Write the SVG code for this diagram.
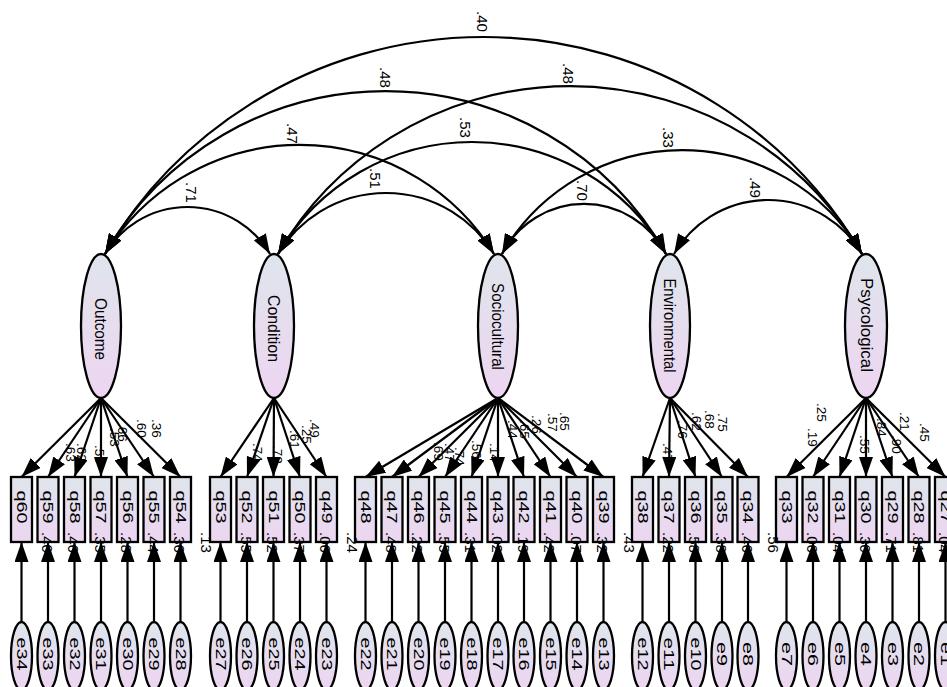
<svg xmlns="http://www.w3.org/2000/svg" width="947" height="687" viewBox="0 0 947 687">
<defs>
<linearGradient id="gr" x1="0" y1="0" x2="0" y2="1"><stop offset="0" stop-color="#dfe5ec"/><stop offset="1" stop-color="#edd5f1"/></linearGradient>
<marker id="ah" viewBox="0 0 20 14" refX="20" refY="7" markerWidth="20" markerHeight="14" markerUnits="userSpaceOnUse" orient="auto-start-reverse"><path d="M0,0 L20,7 L0,14 z" fill="#000"/></marker>
<style>
.nd{fill:url(#gr);stroke:#000;stroke-width:2.3}
.t{font-family:"Liberation Sans",Arial,sans-serif;fill:#000}
.lt{font-size:16px;text-anchor:middle}
.bt{font-size:15px;text-anchor:middle}
.c{fill:none;stroke:#000;stroke-width:2.2}
.cv{marker-start:url(#ah);marker-end:url(#ah)}
.ar{marker-end:url(#ah)}
.lb{font-size:15px}
.ld{font-size:13.5px}
</style>
</defs>
<rect width="947" height="687" fill="#fff"/>
<g id="latents">
<g id="Outcome"><ellipse class="nd" cx="101" cy="326" rx="20" ry="72"/><text class="t lt" transform="translate(95,329) rotate(90)" textLength="62" lengthAdjust="spacingAndGlyphs">Outcome</text></g>
<g id="Condition"><ellipse class="nd" cx="274" cy="326" rx="20" ry="72"/><text class="t lt" transform="translate(268,328.5) rotate(90)" textLength="67" lengthAdjust="spacingAndGlyphs">Condition</text></g>
<g id="Sociocultural"><ellipse class="nd" cx="498" cy="326" rx="20" ry="72"/><text class="t lt" transform="translate(492,326.5) rotate(90)" textLength="87" lengthAdjust="spacingAndGlyphs">Sociocultural</text></g>
<g id="Environmental"><ellipse class="nd" cx="670" cy="326" rx="20" ry="72"/><text class="t lt" transform="translate(664,325.5) rotate(90)" textLength="94" lengthAdjust="spacingAndGlyphs">Environmental</text></g>
<g id="Psycological"><ellipse class="nd" cx="866" cy="326" rx="21" ry="72"/><text class="t lt" transform="translate(861,325) rotate(90)" textLength="94" lengthAdjust="spacingAndGlyphs">Psycological</text></g>
</g>
<g id="indicators">
<g id="q60"><rect class="nd" x="11" y="477" width="21" height="65"/><text class="t bt" transform="translate(16.5,507) rotate(90)" textLength="33" lengthAdjust="spacingAndGlyphs">q60</text></g>
<g id="q59"><rect class="nd" x="37.5" y="477" width="21" height="65"/><text class="t bt" transform="translate(43,507) rotate(90)" textLength="33" lengthAdjust="spacingAndGlyphs">q59</text></g>
<g id="q58"><rect class="nd" x="64" y="477" width="21" height="65"/><text class="t bt" transform="translate(69.5,507) rotate(90)" textLength="33" lengthAdjust="spacingAndGlyphs">q58</text></g>
<g id="q57"><rect class="nd" x="90.5" y="477" width="21" height="65"/><text class="t bt" transform="translate(96,507) rotate(90)" textLength="33" lengthAdjust="spacingAndGlyphs">q57</text></g>
<g id="q56"><rect class="nd" x="117" y="477" width="21" height="65"/><text class="t bt" transform="translate(122.5,507) rotate(90)" textLength="33" lengthAdjust="spacingAndGlyphs">q56</text></g>
<g id="q55"><rect class="nd" x="143.5" y="477" width="21" height="65"/><text class="t bt" transform="translate(149,507) rotate(90)" textLength="33" lengthAdjust="spacingAndGlyphs">q55</text></g>
<g id="q54"><rect class="nd" x="170" y="477" width="21" height="65"/><text class="t bt" transform="translate(175.5,507) rotate(90)" textLength="33" lengthAdjust="spacingAndGlyphs">q54</text></g>
<g id="q53"><rect class="nd" x="210" y="477" width="21" height="65"/><text class="t bt" transform="translate(215.5,507) rotate(90)" textLength="33" lengthAdjust="spacingAndGlyphs">q53</text></g>
<g id="q52"><rect class="nd" x="236.5" y="477" width="21" height="65"/><text class="t bt" transform="translate(242,507) rotate(90)" textLength="33" lengthAdjust="spacingAndGlyphs">q52</text></g>
<g id="q51"><rect class="nd" x="263" y="477" width="21" height="65"/><text class="t bt" transform="translate(268.5,507) rotate(90)" textLength="33" lengthAdjust="spacingAndGlyphs">q51</text></g>
<g id="q50"><rect class="nd" x="289.5" y="477" width="21" height="65"/><text class="t bt" transform="translate(295,507) rotate(90)" textLength="33" lengthAdjust="spacingAndGlyphs">q50</text></g>
<g id="q49"><rect class="nd" x="316" y="477" width="21" height="65"/><text class="t bt" transform="translate(321.5,507) rotate(90)" textLength="33" lengthAdjust="spacingAndGlyphs">q49</text></g>
<g id="q48"><rect class="nd" x="355" y="477" width="21" height="65"/><text class="t bt" transform="translate(360.5,507) rotate(90)" textLength="33" lengthAdjust="spacingAndGlyphs">q48</text></g>
<g id="q47"><rect class="nd" x="381.5" y="477" width="21" height="65"/><text class="t bt" transform="translate(387,507) rotate(90)" textLength="33" lengthAdjust="spacingAndGlyphs">q47</text></g>
<g id="q46"><rect class="nd" x="408" y="477" width="21" height="65"/><text class="t bt" transform="translate(413.5,507) rotate(90)" textLength="33" lengthAdjust="spacingAndGlyphs">q46</text></g>
<g id="q45"><rect class="nd" x="434.5" y="477" width="21" height="65"/><text class="t bt" transform="translate(440,507) rotate(90)" textLength="33" lengthAdjust="spacingAndGlyphs">q45</text></g>
<g id="q44"><rect class="nd" x="461" y="477" width="21" height="65"/><text class="t bt" transform="translate(466.5,507) rotate(90)" textLength="33" lengthAdjust="spacingAndGlyphs">q44</text></g>
<g id="q43"><rect class="nd" x="487.5" y="477" width="21" height="65"/><text class="t bt" transform="translate(493,507) rotate(90)" textLength="33" lengthAdjust="spacingAndGlyphs">q43</text></g>
<g id="q42"><rect class="nd" x="513.5" y="477" width="21" height="65"/><text class="t bt" transform="translate(519,507) rotate(90)" textLength="33" lengthAdjust="spacingAndGlyphs">q42</text></g>
<g id="q41"><rect class="nd" x="540" y="477" width="21" height="65"/><text class="t bt" transform="translate(545.5,507) rotate(90)" textLength="33" lengthAdjust="spacingAndGlyphs">q41</text></g>
<g id="q40"><rect class="nd" x="566.5" y="477" width="21" height="65"/><text class="t bt" transform="translate(572,507) rotate(90)" textLength="33" lengthAdjust="spacingAndGlyphs">q40</text></g>
<g id="q39"><rect class="nd" x="593" y="477" width="21" height="65"/><text class="t bt" transform="translate(598.5,507) rotate(90)" textLength="33" lengthAdjust="spacingAndGlyphs">q39</text></g>
<g id="q38"><rect class="nd" x="632" y="477" width="21" height="65"/><text class="t bt" transform="translate(637.5,507) rotate(90)" textLength="33" lengthAdjust="spacingAndGlyphs">q38</text></g>
<g id="q37"><rect class="nd" x="658.5" y="477" width="21" height="65"/><text class="t bt" transform="translate(664,507) rotate(90)" textLength="33" lengthAdjust="spacingAndGlyphs">q37</text></g>
<g id="q36"><rect class="nd" x="685" y="477" width="21" height="65"/><text class="t bt" transform="translate(690.5,507) rotate(90)" textLength="33" lengthAdjust="spacingAndGlyphs">q36</text></g>
<g id="q35"><rect class="nd" x="711.5" y="477" width="21" height="65"/><text class="t bt" transform="translate(717,507) rotate(90)" textLength="33" lengthAdjust="spacingAndGlyphs">q35</text></g>
<g id="q34"><rect class="nd" x="737.5" y="477" width="21" height="65"/><text class="t bt" transform="translate(743,507) rotate(90)" textLength="33" lengthAdjust="spacingAndGlyphs">q34</text></g>
<g id="q33"><rect class="nd" x="776" y="477" width="21" height="65"/><text class="t bt" transform="translate(781.5,507) rotate(90)" textLength="33" lengthAdjust="spacingAndGlyphs">q33</text></g>
<g id="q32"><rect class="nd" x="802.5" y="477" width="21" height="65"/><text class="t bt" transform="translate(808,507) rotate(90)" textLength="33" lengthAdjust="spacingAndGlyphs">q32</text></g>
<g id="q31"><rect class="nd" x="829" y="477" width="21" height="65"/><text class="t bt" transform="translate(834.5,507) rotate(90)" textLength="33" lengthAdjust="spacingAndGlyphs">q31</text></g>
<g id="q30"><rect class="nd" x="855.5" y="477" width="21" height="65"/><text class="t bt" transform="translate(861,507) rotate(90)" textLength="33" lengthAdjust="spacingAndGlyphs">q30</text></g>
<g id="q29"><rect class="nd" x="882" y="477" width="21" height="65"/><text class="t bt" transform="translate(887.5,507) rotate(90)" textLength="33" lengthAdjust="spacingAndGlyphs">q29</text></g>
<g id="q28"><rect class="nd" x="908.5" y="477" width="21" height="65"/><text class="t bt" transform="translate(914,507) rotate(90)" textLength="33" lengthAdjust="spacingAndGlyphs">q28</text></g>
<g id="q27"><rect class="nd" x="935" y="477" width="21" height="65"/><text class="t bt" transform="translate(940.5,507) rotate(90)" textLength="33" lengthAdjust="spacingAndGlyphs">q27</text></g>
</g>
<g id="errors">
<g id="e34"><ellipse class="nd" cx="21.5" cy="656" rx="10.5" ry="34"/><text class="t bt" transform="translate(16.5,654) rotate(90)" textLength="33" lengthAdjust="spacingAndGlyphs">e34</text></g>
<g id="e33"><ellipse class="nd" cx="48" cy="656" rx="10.5" ry="34"/><text class="t bt" transform="translate(43,654) rotate(90)" textLength="33" lengthAdjust="spacingAndGlyphs">e33</text></g>
<g id="e32"><ellipse class="nd" cx="74.5" cy="656" rx="10.5" ry="34"/><text class="t bt" transform="translate(69.5,654) rotate(90)" textLength="33" lengthAdjust="spacingAndGlyphs">e32</text></g>
<g id="e31"><ellipse class="nd" cx="101" cy="656" rx="10.5" ry="34"/><text class="t bt" transform="translate(96,654) rotate(90)" textLength="33" lengthAdjust="spacingAndGlyphs">e31</text></g>
<g id="e30"><ellipse class="nd" cx="127.5" cy="656" rx="10.5" ry="34"/><text class="t bt" transform="translate(122.5,654) rotate(90)" textLength="33" lengthAdjust="spacingAndGlyphs">e30</text></g>
<g id="e29"><ellipse class="nd" cx="154" cy="656" rx="10.5" ry="34"/><text class="t bt" transform="translate(149,654) rotate(90)" textLength="33" lengthAdjust="spacingAndGlyphs">e29</text></g>
<g id="e28"><ellipse class="nd" cx="180.5" cy="656" rx="10.5" ry="34"/><text class="t bt" transform="translate(175.5,654) rotate(90)" textLength="33" lengthAdjust="spacingAndGlyphs">e28</text></g>
<g id="e27"><ellipse class="nd" cx="220.5" cy="656" rx="10.5" ry="34"/><text class="t bt" transform="translate(215.5,654) rotate(90)" textLength="33" lengthAdjust="spacingAndGlyphs">e27</text></g>
<g id="e26"><ellipse class="nd" cx="247" cy="656" rx="10.5" ry="34"/><text class="t bt" transform="translate(242,654) rotate(90)" textLength="33" lengthAdjust="spacingAndGlyphs">e26</text></g>
<g id="e25"><ellipse class="nd" cx="273.5" cy="656" rx="10.5" ry="34"/><text class="t bt" transform="translate(268.5,654) rotate(90)" textLength="33" lengthAdjust="spacingAndGlyphs">e25</text></g>
<g id="e24"><ellipse class="nd" cx="300" cy="656" rx="10.5" ry="34"/><text class="t bt" transform="translate(295,654) rotate(90)" textLength="33" lengthAdjust="spacingAndGlyphs">e24</text></g>
<g id="e23"><ellipse class="nd" cx="326.5" cy="656" rx="10.5" ry="34"/><text class="t bt" transform="translate(321.5,654) rotate(90)" textLength="33" lengthAdjust="spacingAndGlyphs">e23</text></g>
<g id="e22"><ellipse class="nd" cx="365.5" cy="656" rx="10.5" ry="34"/><text class="t bt" transform="translate(360.5,654) rotate(90)" textLength="33" lengthAdjust="spacingAndGlyphs">e22</text></g>
<g id="e21"><ellipse class="nd" cx="392" cy="656" rx="10.5" ry="34"/><text class="t bt" transform="translate(387,654) rotate(90)" textLength="33" lengthAdjust="spacingAndGlyphs">e21</text></g>
<g id="e20"><ellipse class="nd" cx="418.5" cy="656" rx="10.5" ry="34"/><text class="t bt" transform="translate(413.5,654) rotate(90)" textLength="33" lengthAdjust="spacingAndGlyphs">e20</text></g>
<g id="e19"><ellipse class="nd" cx="445" cy="656" rx="10.5" ry="34"/><text class="t bt" transform="translate(440,654) rotate(90)" textLength="33" lengthAdjust="spacingAndGlyphs">e19</text></g>
<g id="e18"><ellipse class="nd" cx="471.5" cy="656" rx="10.5" ry="34"/><text class="t bt" transform="translate(466.5,654) rotate(90)" textLength="33" lengthAdjust="spacingAndGlyphs">e18</text></g>
<g id="e17"><ellipse class="nd" cx="498" cy="656" rx="10.5" ry="34"/><text class="t bt" transform="translate(493,654) rotate(90)" textLength="33" lengthAdjust="spacingAndGlyphs">e17</text></g>
<g id="e16"><ellipse class="nd" cx="524" cy="656" rx="10.5" ry="34"/><text class="t bt" transform="translate(519,654) rotate(90)" textLength="33" lengthAdjust="spacingAndGlyphs">e16</text></g>
<g id="e15"><ellipse class="nd" cx="550.5" cy="656" rx="10.5" ry="34"/><text class="t bt" transform="translate(545.5,654) rotate(90)" textLength="33" lengthAdjust="spacingAndGlyphs">e15</text></g>
<g id="e14"><ellipse class="nd" cx="577" cy="656" rx="10.5" ry="34"/><text class="t bt" transform="translate(572,654) rotate(90)" textLength="33" lengthAdjust="spacingAndGlyphs">e14</text></g>
<g id="e13"><ellipse class="nd" cx="603.5" cy="656" rx="10.5" ry="34"/><text class="t bt" transform="translate(598.5,654) rotate(90)" textLength="33" lengthAdjust="spacingAndGlyphs">e13</text></g>
<g id="e12"><ellipse class="nd" cx="642.5" cy="656" rx="10.5" ry="34"/><text class="t bt" transform="translate(637.5,654) rotate(90)" textLength="33" lengthAdjust="spacingAndGlyphs">e12</text></g>
<g id="e11"><ellipse class="nd" cx="669" cy="656" rx="10.5" ry="34"/><text class="t bt" transform="translate(664,654) rotate(90)" textLength="33" lengthAdjust="spacingAndGlyphs">e11</text></g>
<g id="e10"><ellipse class="nd" cx="695.5" cy="656" rx="10.5" ry="34"/><text class="t bt" transform="translate(690.5,654) rotate(90)" textLength="33" lengthAdjust="spacingAndGlyphs">e10</text></g>
<g id="e9"><ellipse class="nd" cx="722" cy="656" rx="10.5" ry="34"/><text class="t bt" transform="translate(717,654) rotate(90)" textLength="24" lengthAdjust="spacingAndGlyphs">e9</text></g>
<g id="e8"><ellipse class="nd" cx="748" cy="656" rx="10.5" ry="34"/><text class="t bt" transform="translate(743,654) rotate(90)" textLength="24" lengthAdjust="spacingAndGlyphs">e8</text></g>
<g id="e7"><ellipse class="nd" cx="786.5" cy="656" rx="10.5" ry="34"/><text class="t bt" transform="translate(781.5,654) rotate(90)" textLength="24" lengthAdjust="spacingAndGlyphs">e7</text></g>
<g id="e6"><ellipse class="nd" cx="813" cy="656" rx="10.5" ry="34"/><text class="t bt" transform="translate(808,654) rotate(90)" textLength="24" lengthAdjust="spacingAndGlyphs">e6</text></g>
<g id="e5"><ellipse class="nd" cx="839.5" cy="656" rx="10.5" ry="34"/><text class="t bt" transform="translate(834.5,654) rotate(90)" textLength="24" lengthAdjust="spacingAndGlyphs">e5</text></g>
<g id="e4"><ellipse class="nd" cx="866" cy="656" rx="10.5" ry="34"/><text class="t bt" transform="translate(861,654) rotate(90)" textLength="24" lengthAdjust="spacingAndGlyphs">e4</text></g>
<g id="e3"><ellipse class="nd" cx="892.5" cy="656" rx="10.5" ry="34"/><text class="t bt" transform="translate(887.5,654) rotate(90)" textLength="24" lengthAdjust="spacingAndGlyphs">e3</text></g>
<g id="e2"><ellipse class="nd" cx="919" cy="656" rx="10.5" ry="34"/><text class="t bt" transform="translate(914,654) rotate(90)" textLength="24" lengthAdjust="spacingAndGlyphs">e2</text></g>
<g id="e1"><ellipse class="nd" cx="945.5" cy="656" rx="10.5" ry="34"/><text class="t bt" transform="translate(940.5,654) rotate(90)" textLength="24" lengthAdjust="spacingAndGlyphs">e1</text></g>
</g>
<g id="connectors" class="c">
<g id="covariances" class="cv">
<path d="M105,254 A95.9,95.9 0 0 1 270,254"/>
<path d="M278,254 A126.1,126.1 0 0 1 494,254"/>
<path d="M105,254 A228,228 0 0 1 494,254"/>
<path d="M278,254 A224,224 0 0 1 666,254"/>
<path d="M105,254 A322.9,322.9 0 0 1 666,254"/>
<path d="M278,254 A337.8,337.8 0 0 1 862,254"/>
<path d="M105,254 A438.6,438.6 0 0 1 862,254"/>
<path d="M502,254 A92.2,92.2 0 0 1 666,254"/>
<path d="M502,254 A207.8,207.8 0 0 1 862,254"/>
<path d="M674,254 A108.8,108.8 0 0 1 862,254"/>
</g>
<g id="loadings" class="ar">
<line x1="101" y1="398" x2="21.5" y2="477"/><line x1="101" y1="398" x2="48" y2="477"/><line x1="101" y1="398" x2="74.5" y2="477"/><line x1="101" y1="398" x2="101" y2="477"/><line x1="101" y1="398" x2="127.5" y2="477"/><line x1="101" y1="398" x2="154" y2="477"/><line x1="101" y1="398" x2="180.5" y2="477"/>
<line x1="274" y1="398" x2="220.5" y2="477"/><line x1="274" y1="398" x2="247" y2="477"/><line x1="274" y1="398" x2="273.5" y2="477"/><line x1="274" y1="398" x2="300" y2="477"/><line x1="274" y1="398" x2="326.5" y2="477"/>
<line x1="498" y1="398" x2="365.5" y2="477"/><line x1="498" y1="398" x2="392" y2="477"/><line x1="498" y1="398" x2="418.5" y2="477"/><line x1="498" y1="398" x2="445" y2="477"/><line x1="498" y1="398" x2="471.5" y2="477"/><line x1="498" y1="398" x2="498" y2="477"/><line x1="498" y1="398" x2="524" y2="477"/><line x1="498" y1="398" x2="550.5" y2="477"/><line x1="498" y1="398" x2="577" y2="477"/><line x1="498" y1="398" x2="603.5" y2="477"/>
<line x1="670" y1="398" x2="642.5" y2="477"/><line x1="670" y1="398" x2="669" y2="477"/><line x1="670" y1="398" x2="695.5" y2="477"/><line x1="670" y1="398" x2="722" y2="477"/><line x1="670" y1="398" x2="748" y2="477"/>
<line x1="866" y1="398" x2="786.5" y2="477"/><line x1="866" y1="398" x2="813" y2="477"/><line x1="866" y1="398" x2="839.5" y2="477"/><line x1="866" y1="398" x2="866" y2="477"/><line x1="866" y1="398" x2="892.5" y2="477"/><line x1="866" y1="398" x2="919" y2="477"/><line x1="866" y1="398" x2="945.5" y2="477"/>
</g>
<g id="residuals" class="ar">
<line x1="21.5" y1="622" x2="21.5" y2="542"/><line x1="48" y1="622" x2="48" y2="542"/><line x1="74.5" y1="622" x2="74.5" y2="542"/><line x1="101" y1="622" x2="101" y2="542"/><line x1="127.5" y1="622" x2="127.5" y2="542"/><line x1="154" y1="622" x2="154" y2="542"/><line x1="180.5" y1="622" x2="180.5" y2="542"/>
<line x1="220.5" y1="622" x2="220.5" y2="542"/><line x1="247" y1="622" x2="247" y2="542"/><line x1="273.5" y1="622" x2="273.5" y2="542"/><line x1="300" y1="622" x2="300" y2="542"/><line x1="326.5" y1="622" x2="326.5" y2="542"/>
<line x1="365.5" y1="622" x2="365.5" y2="542"/><line x1="392" y1="622" x2="392" y2="542"/><line x1="418.5" y1="622" x2="418.5" y2="542"/><line x1="445" y1="622" x2="445" y2="542"/><line x1="471.5" y1="622" x2="471.5" y2="542"/><line x1="498" y1="622" x2="498" y2="542"/><line x1="524" y1="622" x2="524" y2="542"/><line x1="550.5" y1="622" x2="550.5" y2="542"/><line x1="577" y1="622" x2="577" y2="542"/><line x1="603.5" y1="622" x2="603.5" y2="542"/>
<line x1="642.5" y1="622" x2="642.5" y2="542"/><line x1="669" y1="622" x2="669" y2="542"/><line x1="695.5" y1="622" x2="695.5" y2="542"/><line x1="722" y1="622" x2="722" y2="542"/><line x1="748" y1="622" x2="748" y2="542"/>
<line x1="786.5" y1="622" x2="786.5" y2="542"/><line x1="813" y1="622" x2="813" y2="542"/><line x1="839.5" y1="622" x2="839.5" y2="542"/><line x1="866" y1="622" x2="866" y2="542"/><line x1="892.5" y1="622" x2="892.5" y2="542"/><line x1="919" y1="622" x2="919" y2="542"/><line x1="945.5" y1="622" x2="945.5" y2="542"/>
</g>
</g>
<g id="covariance-labels" class="t lb">
<text transform="translate(477,11) rotate(90)">.40</text>
<text transform="translate(380,67) rotate(90)">.48</text>
<text transform="translate(563,63) rotate(90)">.48</text>
<text transform="translate(287,123) rotate(90)">.47</text>
<text transform="translate(460,117) rotate(90)">.53</text>
<text transform="translate(663,127) rotate(90)">.33</text>
<text transform="translate(186,182) rotate(90)">.71</text>
<text transform="translate(370,168) rotate(90)">.51</text>
<text transform="translate(577,180) rotate(90)">.70</text>
<text transform="translate(750,177) rotate(90)">.49</text>
</g>
<g id="loading-labels" class="t ld">
<text transform="translate(66,443) rotate(90)">.63</text>
<text transform="translate(77,443) rotate(90)">.62</text>
<text transform="translate(95,445) rotate(90)">.59</text>
<text transform="translate(110,428) rotate(90)">.53</text>
<text transform="translate(118,423) rotate(90)">.66</text>
<text transform="translate(137,419) rotate(90)">.60</text>
<text transform="translate(152,419) rotate(90)">.36</text>
<text transform="translate(253,443) rotate(90)">.74</text>
<text transform="translate(273,445) rotate(90)">.72</text>
<text transform="translate(290,430) rotate(90)">.61</text>
<text transform="translate(302,425) rotate(90)">.25</text>
<text transform="translate(310,419) rotate(90)">.49</text>
<text transform="translate(434,442) rotate(90)">.69</text>
<text transform="translate(445,443) rotate(90)">.47</text>
<text transform="translate(455,447) rotate(90)">.74</text>
<text transform="translate(472,440) rotate(90)">.56</text>
<text transform="translate(490,443) rotate(90)">.14</text>
<text transform="translate(508,420) rotate(90)">.44</text>
<text transform="translate(520,420) rotate(90)">.65</text>
<text transform="translate(532,415) rotate(90)">.26</text>
<text transform="translate(548,413) rotate(90)">.57</text>
<text transform="translate(560,412) rotate(90)">.65</text>
<text transform="translate(663,443) rotate(90)">.47</text>
<text transform="translate(678,420) rotate(90)">.76</text>
<text transform="translate(692,412) rotate(90)">.62</text>
<text transform="translate(705,410) rotate(90)">.68</text>
<text transform="translate(718,413) rotate(90)">.75</text>
<text transform="translate(817,403) rotate(90)">.25</text>
<text transform="translate(808,428) rotate(90)">.19</text>
<text transform="translate(860,435) rotate(90)">.55</text>
<text transform="translate(877,418) rotate(90)">.84</text>
<text transform="translate(892,435) rotate(90)">.90</text>
<text transform="translate(900,412) rotate(90)">.21</text>
<text transform="translate(920,423) rotate(90)">.45</text>
</g>
<g id="r2-labels" class="t lb">
<text transform="translate(41.5,532) rotate(90)">.40</text>
<text transform="translate(68,532) rotate(90)">.46</text>
<text transform="translate(94.5,532) rotate(90)">.35</text>
<text transform="translate(121,532) rotate(90)">.28</text>
<text transform="translate(147.5,532) rotate(90)">.44</text>
<text transform="translate(174,532) rotate(90)">.36</text>
<text transform="translate(200.5,532) rotate(90)">.13</text>
<text transform="translate(240.5,532) rotate(90)">.55</text>
<text transform="translate(267,532) rotate(90)">.52</text>
<text transform="translate(293.5,532) rotate(90)">.37</text>
<text transform="translate(320,532) rotate(90)">.06</text>
<text transform="translate(346.5,532) rotate(90)">.24</text>
<text transform="translate(385.5,532) rotate(90)">.48</text>
<text transform="translate(412,532) rotate(90)">.22</text>
<text transform="translate(438.5,532) rotate(90)">.55</text>
<text transform="translate(465,532) rotate(90)">.31</text>
<text transform="translate(491.5,532) rotate(90)">.02</text>
<text transform="translate(518,532) rotate(90)">.19</text>
<text transform="translate(544,532) rotate(90)">.42</text>
<text transform="translate(570.5,532) rotate(90)">.07</text>
<text transform="translate(597,532) rotate(90)">.32</text>
<text transform="translate(623.5,532) rotate(90)">.43</text>
<text transform="translate(662.5,532) rotate(90)">.22</text>
<text transform="translate(689,532) rotate(90)">.58</text>
<text transform="translate(715.5,532) rotate(90)">.38</text>
<text transform="translate(742,532) rotate(90)">.46</text>
<text transform="translate(768,532) rotate(90)">.56</text>
<text transform="translate(806.5,532) rotate(90)">.06</text>
<text transform="translate(833,532) rotate(90)">.04</text>
<text transform="translate(859.5,532) rotate(90)">.30</text>
<text transform="translate(886,532) rotate(90)">.71</text>
<text transform="translate(912.5,532) rotate(90)">.81</text>
<text transform="translate(939,532) rotate(90)">.04</text>
</g>
</svg>
